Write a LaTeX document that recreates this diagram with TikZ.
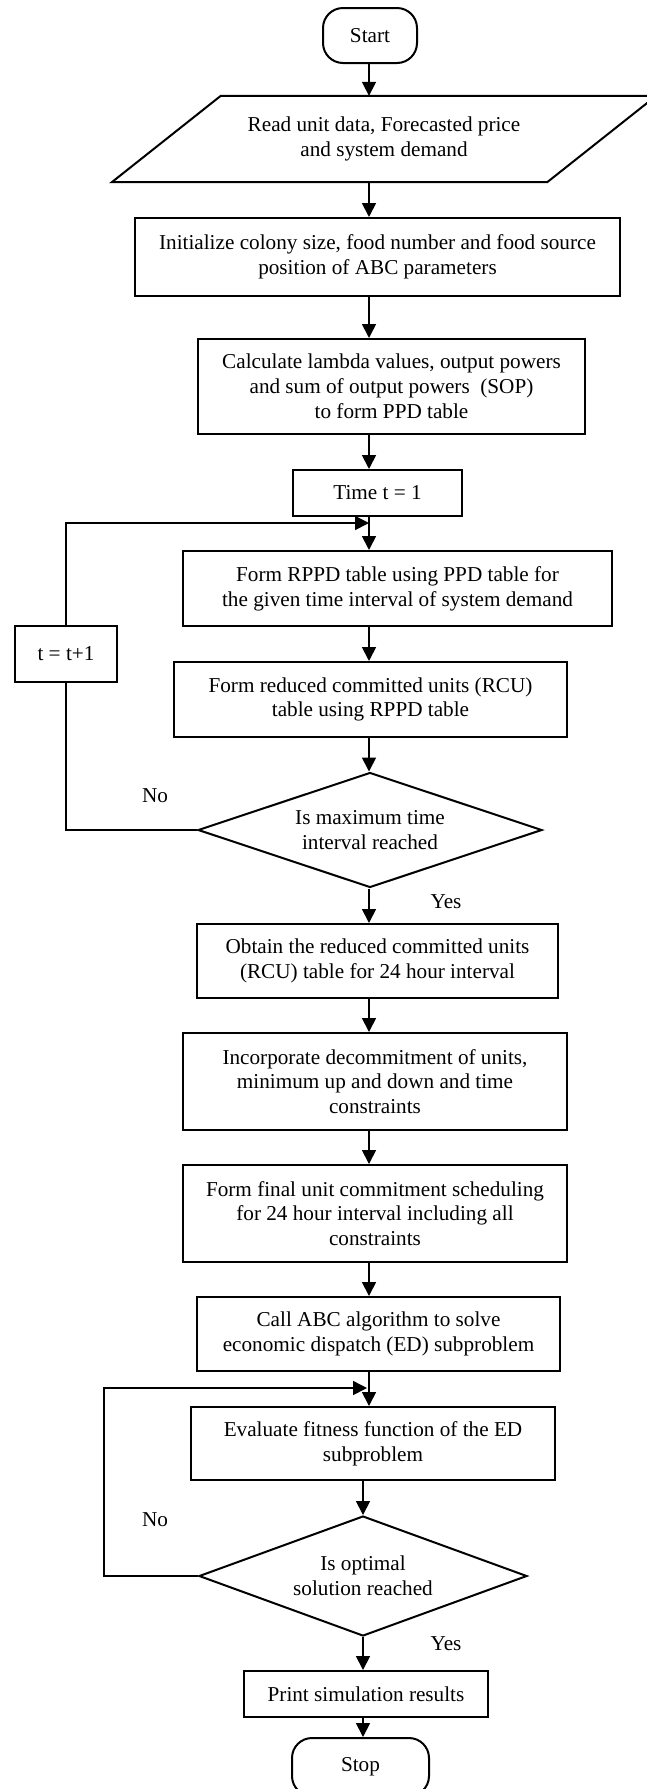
\documentclass[tikz,border=0pt]{standalone}
\usepackage{fontspec}
\setmainfont{Liberation Serif}
\usetikzlibrary{shapes.geometric, arrows.meta}
\tikzstyle{terminal} = [draw, rectangle, rounded corners=20pt, line width=2pt, inner sep=0pt]
\tikzstyle{io} = [rectangle, align=center, inner sep=0pt]
\tikzstyle{process} = [draw, rectangle, line width=2pt, align=center, inner sep=0pt]
\tikzstyle{decision} = [draw, diamond, aspect=3, line width=2pt, align=center, inner sep=0pt]
\tikzstyle{flow} = [line width=1.8pt, -{Triangle[length=14pt, width=14pt]}]
\tikzstyle{loopline} = [line width=1.6pt]

\begin{document}
\begin{tikzpicture}[x=1pt, y=-1pt, font=\fontsize{21.2}{24.8}\selectfont]
    \useasboundingbox (0,0) rectangle (646,1789);
    \coordinate (spine) at (369,0);
    \coordinate (spinelow) at (363,0);
    % main column
    \draw (370,35.5) node[terminal, minimum width=94pt, minimum height=55pt] (start) {Start};
    \draw (384,139) node[io, minimum width=435pt, minimum height=86pt] (read) {Read unit data, Forecasted price\\and system demand};
    \draw [line width=2pt] ([xshift=-54.5pt]read.south west) -- ([xshift=-54.5pt]read.south east)
        -- ([xshift=54.5pt]read.north east) -- ([xshift=54.5pt]read.north west) -- cycle;
    \draw (377.5,257) node[process, minimum width=485pt, minimum height=78pt] (init) {Initialize colony size, food number and food source\\position of ABC parameters};
    \draw (391.5,386.5) node[process, minimum width=387pt, minimum height=95pt] (calc) {Calculate lambda values, output powers\\and sum of output powers\ \ (SOP)\\to form PPD table};
    \draw (377.5,493) node[process, minimum width=169pt, minimum height=46pt] (time) {Time t = 1};
    \draw (397.5,588.5) node[process, minimum width=429pt, minimum height=75pt] (rppd) {Form RPPD table using PPD table for\\the given time interval of system demand};
    \draw (370.5,699.5) node[process, minimum width=393pt, minimum height=75pt] (rcu) {Form reduced committed units (RCU)\\table using RPPD table};
    \draw (370,830) node[decision, minimum width=344pt, minimum height=115pt] (maxt) {Is maximum time\\interval reached};
    \draw (66,654) node[process, minimum width=102pt, minimum height=56pt] (tinc) {t = t+1};
    \draw (377.5,961) node[process, minimum width=361pt, minimum height=74pt] (obtain) {Obtain the reduced committed units\\(RCU) table for 24 hour interval};
    \draw (375,1081.5) node[process, minimum width=384pt, minimum height=97pt] (incorp) {Incorporate decommitment of units,\\minimum up and down and time\\constraints};
    \draw (375,1213.5) node[process, minimum width=384pt, minimum height=97pt] (final) {Form final unit commitment scheduling\\for 24 hour interval including all\\constraints};
    \draw (378.5,1334) node[process, minimum width=363pt, minimum height=74pt] (callabc) {Call ABC algorithm to solve\\economic dispatch (ED) subproblem};
    \draw (373,1443.5) node[process, minimum width=364pt, minimum height=73pt] (evalfit) {Evaluate fitness function of the ED\\subproblem};
    \draw (363,1576) node[decision, minimum width=328pt, minimum height=120pt] (optim) {Is optimal\\solution reached};
    \draw (366,1694) node[process, minimum width=244pt, minimum height=46pt] (print) {Print simulation results};
    \draw (360.5,1767) node[terminal, minimum width=137pt, minimum height=58pt] (stop) {Stop};
    % labels
    \node (no1) at (155,796) {No};
    \node (yes1) at (446,902) {Yes};
    \node (no2) at (155,1520) {No};
    \node (yes2) at (446,1644) {Yes};
    % arrows
    \draw [flow] (start.south -| spine) -- (read.north -| spine);
    \draw [flow] (read.south -| spine) -- (init.north -| spine);
    \draw [flow] (init.south -| spine) -- (calc.north -| spine);
    \draw [flow] (calc.south -| spine) -- (time.north -| spine);
    \draw [flow] (time.south -| spine) -- (rppd.north -| spine);
    \draw [flow] (rppd.south -| spine) -- (rcu.north -| spine);
    \draw [flow] (rcu.south -| spine) -- (maxt.north -| spine);
    \draw [flow] (maxt.south -| spine) -- (obtain.north -| spine);
    \draw [flow] (obtain.south -| spine) -- (incorp.north -| spine);
    \draw [flow] (incorp.south -| spine) -- (final.north -| spine);
    \draw [flow] (final.south -| spine) -- (callabc.north -| spine);
    \draw [flow] (callabc.south -| spine) -- (evalfit.north -| spine);
    \draw [flow] (evalfit.south -| spinelow) -- (optim.north);
    \draw [flow] (optim.south) -- (print.north -| spinelow);
    \draw [flow] (print.south -| spinelow) -- (stop.north -| spinelow);
    % loops back
    \coordinate (join1) at (369,523);
    \coordinate (join2) at (367,1388);
    \coordinate (back2) at (104,1576);
    \draw [loopline] (maxt.west) -| (tinc.south);
    \draw [loopline, -{Triangle[length=14pt, width=14pt]}] (tinc.north) |- (join1);
    \draw [loopline, -{Triangle[length=14pt, width=14pt]}] (optim.west) -- (back2) |- (join2);
\end{tikzpicture}
\end{document}
